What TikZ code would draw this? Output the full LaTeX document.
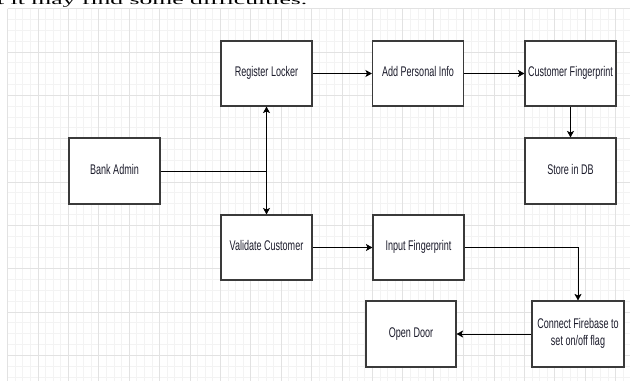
\documentclass[tikz,border=0pt]{standalone}
\usepackage{fontspec}
\usepackage{graphicx}
\setmainfont{Liberation Sans}
\newfontfamily\serifbody{Liberation Serif}
\usetikzlibrary{arrows.meta}
\definecolor{gridminor}{HTML}{F3F3F3}
\definecolor{gridmajor}{HTML}{E2E2E2}
\definecolor{boxline}{HTML}{3A3A3A}
\definecolor{boxtext}{HTML}{1A1A2A}
\newcommand{\boxlabel}[1]{\scalebox{0.645}[1]{\fontsize{14}{16.7}\selectfont\begin{tabular}{@{}c@{}}#1\end{tabular}}}
\tikzset{
  stepbox/.style={draw=boxline, line width=1.1pt, fill=white, minimum width=91pt, minimum height=65pt, inner sep=0pt, text=boxtext, align=center},
  flow/.style={draw=black, line width=1pt, -{Stealth[length=6.5pt,width=7pt,inset=1.5pt]}},
  plainline/.style={draw=black, line width=1pt},
  gminor/.style={draw=gridminor, line width=0.7pt},
  gmajor/.style={draw=gridmajor, line width=0.8pt}
}
\begin{document}
\begin{tikzpicture}[x=1pt,y=-1pt]
\useasboundingbox[fill=white] (0,0) rectangle (630,381);
% grid
\foreach \i in {1,...,82} { \draw[gminor] (7.6*\i,8.67) -- (7.6*\i,381); }
\foreach \j in {0,...,34} { \draw[gminor] (7.6,8.67+10.833*\j) -- (630,8.67+10.833*\j); }
\foreach \k in {0,...,20} { \draw[gmajor] (7.6+30.4*\k,8.67) -- (7.6+30.4*\k,381); }
\foreach \k in {0,...,8} { \draw[gmajor] (7.6,8.67+43.33*\k) -- (630,8.67+43.33*\k); }
% cut-off body text at the top
\node[anchor=base west, inner sep=0pt] (toptext) at (-3,4.5) {\resizebox{310pt}{\height}{\serifbody\fontsize{13}{13}\selectfont t it may find some difficulties.}};
% boxes
\node[stepbox] (rl)  at (266.5,73.5) {\boxlabel{Register Locker}};
\node[stepbox] (api) at (418,73.5)   {\boxlabel{Add Personal Info}};
\node[stepbox] (cf)  at (570.5,73.5) {\boxlabel{Customer Fingerprint}};
\node[stepbox, minimum height=66pt] (db)  at (570.5,171) {\boxlabel{Store in DB}};
\node[stepbox, minimum height=66pt] (ba)  at (114.5,171) {\boxlabel{Bank Admin}};
\node[stepbox] (vc)  at (266.5,247.5) {\boxlabel{Validate Customer}};
\node[stepbox] (inf) at (418.5,247.5) {\boxlabel{Input Fingerprint}};
\node[stepbox, minimum width=90pt, minimum height=66pt] (od) at (411,334) {\boxlabel{Open Door}};
\node[stepbox, minimum width=92pt, minimum height=66pt] (cfb) at (578,334) {\boxlabel{Connect Firebase to\\set on/off flag}};
% connectors
\coordinate (j) at (rl.south |- ba.east);
\draw[plainline] (ba.east) -- (j);
\draw[flow] (j) -- (rl.south);
\draw[flow] (j) -- (vc.north);
\draw[flow] (rl.east) -- (api.west);
\draw[flow] (api.east) -- (cf.west);
\draw[flow] (cf.south) -- (db.north);
\draw[flow] (vc.east) -- (inf.west);
\draw[flow] (inf.east) -| (cfb.north);
\draw[flow] (cfb.west) -- (od.east);
\end{tikzpicture}
\end{document}
